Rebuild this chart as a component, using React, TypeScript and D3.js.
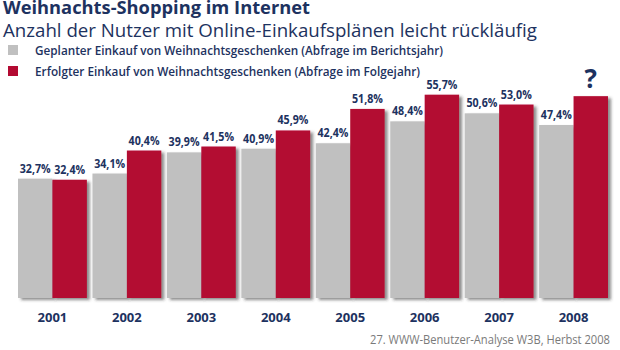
import * as d3 from "d3";
import { useEffect, useRef } from "react";

const years = ["2001", "2002", "2003", "2004", "2005", "2006", "2007", "2008"];
const planned = [32.7, 34.1, 39.9, 40.9, 42.4, 48.4, 50.6, 47.4];
// 2008 "done" is unknown in the source; bar height estimated, label shown as "?"
const done = [32.4, 40.4, 41.5, 45.9, 51.8, 55.7, 53.0, 55.3];
const doneKnown = [true, true, true, true, true, true, true, false];
const seriesNames = [
  "Geplanter Einkauf von Weihnachtsgeschenken (Abfrage im Berichtsjahr)",
  "Erfolgter Einkauf von Weihnachtsgeschenken (Abfrage im Folgejahr)",
];

const NAVY = "#1d3260";
const GREY = "#c0c0c0";
const RED = "#b30a32";

export default function App() {
  const containerRef = useRef<HTMLDivElement>(null);

  useEffect(() => {
    if (!containerRef.current) return;
    document.body.style.margin = "0";
    const container = containerRef.current;
    container.innerHTML = "";

    const width = 620;
    const height = 350;
    const baseY = 298;

    const svg = d3
      .select(container)
      .append("svg")
      .attr("width", width)
      .attr("height", height)
      .style("display", "block")
      .style("background", "#fff");

    const defs = svg.append("defs");
    const f = defs
      .append("filter")
      .attr("id", "shadow")
      .attr("x", "-20%")
      .attr("y", "-10%")
      .attr("width", "150%")
      .attr("height", "130%");
    f.append("feDropShadow")
      .attr("dx", 3)
      .attr("dy", 2)
      .attr("stdDeviation", 1.5)
      .attr("flood-color", "#333")
      .attr("flood-opacity", 0.55);

    const font = "'Open Sans', 'DejaVu Sans', sans-serif";

    // -----------------------------
    // TITLES + LEGEND
    // -----------------------------
    svg.append("text")
      .attr("x", 3)
      .attr("y", 14)
      .attr("textLength", 307)
      .attr("lengthAdjust", "spacingAndGlyphs")
      .style("font-family", font)
      .style("font-weight", "700")
      .style("font-size", "18px")
      .style("fill", NAVY)
      .text("Weihnachts-Shopping im Internet");

    svg.append("text")
      .attr("x", 3)
      .attr("y", 37)
      .attr("textLength", 534)
      .attr("lengthAdjust", "spacingAndGlyphs")
      .style("font-family", font)
      .style("font-size", "19px")
      .style("fill", NAVY)
      .text("Anzahl der Nutzer mit Online-Einkaufsplänen leicht rückläufig");

    const legendColors = [GREY, RED];
    const legendW = [408, 385];
    seriesNames.forEach((name, i) => {
      const y = 45 + i * 21;
      svg.append("rect")
        .attr("x", 8)
        .attr("y", y)
        .attr("width", 10)
        .attr("height", 10)
        .attr("fill", legendColors[i]);
      svg.append("text")
        .attr("x", 35)
        .attr("y", y + 10)
        .attr("textLength", legendW[i])
        .attr("lengthAdjust", "spacingAndGlyphs")
        .style("font-family", font)
        .style("font-size", "13px")
        .style("font-weight", "600")
        .style("fill", NAVY)
        .text(name);
    });

    // -----------------------------
    // SCALES
    // -----------------------------
    const x0 = d3
      .scaleBand()
      .domain(years)
      .range([18, 608])
      .paddingInner(0.075)
      .paddingOuter(0);

    const x1 = d3
      .scaleBand()
      .domain(["planned", "done"])
      .range([0, x0.bandwidth()]);

    const y = d3.scaleLinear().domain([0, 60]).range([baseY, baseY - 219]);

    const fmt = (v: number) => d3.format(".1f")(v).replace(".", ",") + "%";

    // -----------------------------
    // BARS + LABELS
    // -----------------------------
    const groups = svg
      .append("g")
      .selectAll("g")
      .data(years)
      .enter()
      .append("g")
      .attr("transform", (d) => `translate(${x0(d)},0)`);

    groups.each(function (yr, i) {
      const g = d3.select(this);
      const items = [
        { key: "planned", v: planned[i], color: GREY, label: fmt(planned[i]) },
        { key: "done", v: done[i], color: RED, label: doneKnown[i] ? fmt(done[i]) : "" },
      ];
      items.forEach((it) => {
        g.append("rect")
          .attr("x", x1(it.key)!)
          .attr("y", y(it.v))
          .attr("width", x1.bandwidth())
          .attr("height", baseY - y(it.v))
          .attr("fill", it.color)
          .attr("filter", "url(#shadow)");
        if (it.label) {
          g.append("text")
            .attr("x", x1(it.key)! + x1.bandwidth() / 2)
            .attr("y", y(it.v) - 6)
            .attr("text-anchor", "middle")
            .attr("textLength", 31)
            .attr("lengthAdjust", "spacingAndGlyphs")
            .style("font-family", font)
            .style("font-weight", "700")
            .style("font-size", "12.5px")
            .style("fill", NAVY)
            .text(it.label);
        }
      });
      if (!doneKnown[i]) {
        g.append("text")
          .attr("x", x1("done")! + x1.bandwidth() / 2)
          .attr("y", y(done[i]) - 8)
          .attr("text-anchor", "middle")
          .style("font-family", font)
          .style("font-weight", "700")
          .style("font-size", "26px")
          .style("fill", NAVY)
          .text("?");
      }
    });

    // year labels
    svg.append("g")
      .selectAll("text")
      .data(years)
      .enter()
      .append("text")
      .attr("x", (d) => x0(d)! + x0.bandwidth() / 2)
      .attr("y", 322)
      .attr("text-anchor", "middle")
      .style("font-family", font)
      .style("font-weight", "700")
      .style("font-size", "13px")
      .style("fill", NAVY)
      .text((d) => d);

    svg.append("text")
      .attr("x", 610)
      .attr("y", 344)
      .attr("text-anchor", "end")
      .attr("textLength", 240)
      .attr("lengthAdjust", "spacingAndGlyphs")
      .style("font-family", font)
      .style("font-size", "12px")
      .style("fill", "#7a7a7a")
      .text("27. WWW-Benutzer-Analyse W3B, Herbst 2008");
  }, []);

  return <div ref={containerRef} />;
}
